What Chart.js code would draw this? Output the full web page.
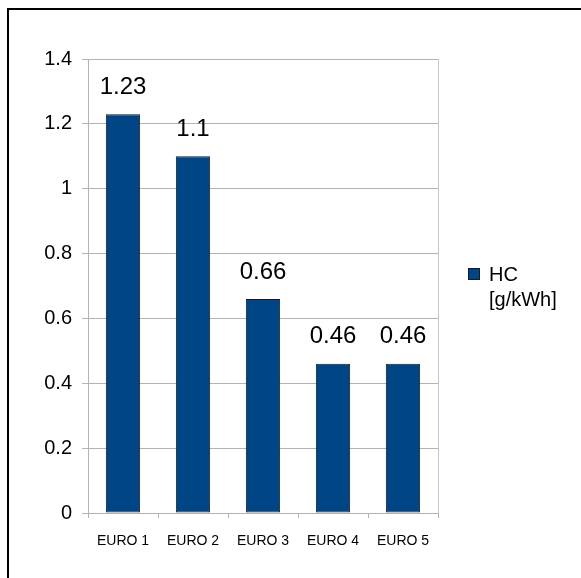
<!DOCTYPE html>
<html>
<head>
<meta charset="utf-8">
<script src="https://cdn.jsdelivr.net/npm/chart.js@4/dist/chart.umd.min.js"></script>
<style>
  body { margin: 0; background: #fff; }
  #wrap { position: relative; width: 581px; height: 578px; overflow: hidden; }
  #frame {
    position: absolute; left: 7px; top: 8px; width: 600px; height: 600px;
    border-left: 2px solid #000; border-top: 2px solid #000;
  }
  canvas { position: absolute; left: 0; top: 0; }
</style>
</head>
<body>
<div id="wrap">
  <div id="frame"></div>
  <canvas id="myChart" width="581" height="578"></canvas>
</div>
<script>
const categories = ['EURO 1', 'EURO 2', 'EURO 3', 'EURO 4', 'EURO 5'];
const hcValues = [1.23, 1.1, 0.66, 0.46, 0.46];
const legendLines = ['HC', '[g/kWh]'];
const yMax = 1.4;
const yStep = 0.2;

const barColor = '#004586';
const gridColor = '#b3b3b3';
const fontFamily = '"Liberation Sans", Arial, sans-serif';

// value above each bar
const valueLabels = {
  id: 'valueLabels',
  afterDatasetsDraw(chart) {
    const ctx = chart.ctx;
    const meta = chart.getDatasetMeta(0);
    ctx.save();
    ctx.font = '24px ' + fontFamily;
    ctx.fillStyle = '#000';
    ctx.textAlign = 'center';
    ctx.textBaseline = 'middle';
    meta.data.forEach((bar, i) => {
      const v = chart.data.datasets[0].data[i];
      ctx.fillText(String(v), bar.x, bar.y - 27);
    });
    ctx.restore();
  }
};

// right edge of the plot plus the two-line legend
const sideLegend = {
  id: 'sideLegend',
  afterDraw(chart) {
    const ctx = chart.ctx;
    const area = chart.chartArea;
    ctx.save();
    ctx.strokeStyle = '#c8c8c8';
    ctx.lineWidth = 1;
    ctx.beginPath();
    ctx.moveTo(area.right + 0.5, area.top);
    ctx.lineTo(area.right + 0.5, area.bottom);
    ctx.stroke();

    const mid = (area.top + area.bottom) / 2;
    const sx = area.right + 30;
    const sy = mid - 18;
    ctx.fillStyle = barColor;
    ctx.fillRect(sx, sy, 12, 12);
    ctx.strokeStyle = '#1a1a1a';
    ctx.strokeRect(sx + 0.5, sy + 0.5, 11, 11);

    ctx.font = '20px ' + fontFamily;
    ctx.fillStyle = '#000';
    ctx.textAlign = 'left';
    ctx.textBaseline = 'alphabetic';
    legendLines.forEach((line, i) => {
      ctx.fillText(line, area.right + 51, sy + 13 + i * 25);
    });
    ctx.restore();
  }
};

const ctx = document.getElementById('myChart').getContext('2d');

new Chart(ctx, {
  type: 'bar',
  data: {
    labels: categories,
    datasets: [{
      label: legendLines.join(' '),
      data: hcValues,
      backgroundColor: barColor,
      borderColor: '#1a1a1a',
      borderWidth: 1,
      borderSkipped: false,
      barPercentage: 0.49,
      categoryPercentage: 1
    }]
  },
  options: {
    responsive: false,
    animation: false,
    layout: {
      padding: { left: 28, top: 59, right: 143, bottom: 25 }
    },
    scales: {
      x: {
        afterFit: (s) => { s.height = 40; },
        grid: {
          offset: true,
          drawOnChartArea: false,
          color: gridColor,
          tickLength: 5
        },
        border: { color: gridColor },
        ticks: {
          color: '#000',
          padding: 15,
          font: { family: fontFamily, size: 14 }
        }
      },
      y: {
        min: 0,
        max: yMax,
        afterFit: (s) => { s.width = 60; },
        grid: { color: gridColor, tickLength: 6 },
        border: { color: gridColor },
        ticks: {
          stepSize: yStep,
          color: '#000',
          padding: 10,
          font: { family: fontFamily, size: 20 },
          callback: (v) => String(+v.toFixed(1))
        }
      }
    },
    plugins: {
      legend: { display: false },
      tooltip: { enabled: false }
    }
  },
  plugins: [valueLabels, sideLegend]
});
</script>
</body>
</html>
